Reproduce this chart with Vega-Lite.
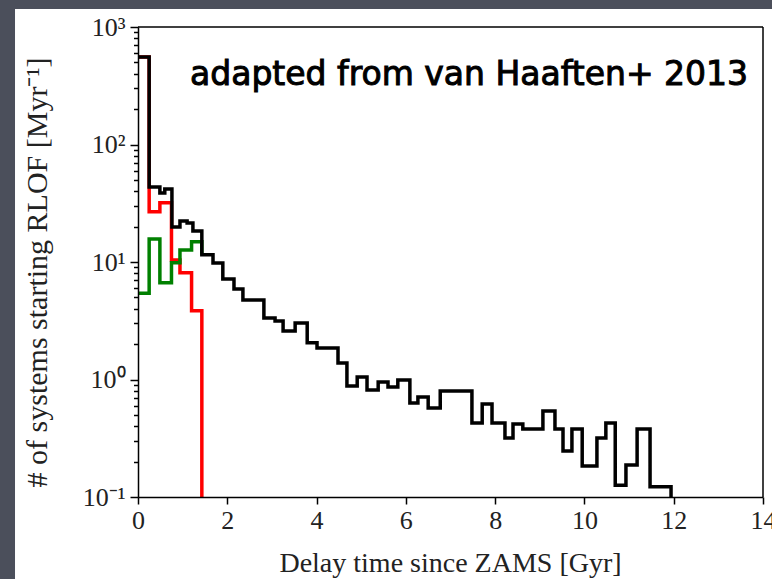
{
  "$schema": "https://vega.github.io/schema/vega-lite/v6.json",
  "autosize": "none",
  "width": 625,
  "height": 470,
  "padding": {"left": 138, "top": 27, "right": 9, "bottom": 82},
  "background": "#4b4f5b",
  "config": {"view": {"stroke": null}},
  "datasets": {
    "steps": [
      {"series": "red", "t": 0, "v": 555},
      {"series": "red", "t": 0.25, "v": 26.8},
      {"series": "red", "t": 0.49, "v": 32},
      {"series": "red", "t": 0.75, "v": 10.4},
      {"series": "red", "t": 0.94, "v": 8.1},
      {"series": "red", "t": 1.2, "v": 3.85},
      {"series": "red", "t": 1.43, "v": 0.01},
      {"series": "green", "t": 0, "v": 5.42},
      {"series": "green", "t": 0.25, "v": 15.7},
      {"series": "green", "t": 0.49, "v": 6.67},
      {"series": "green", "t": 0.75, "v": 9.86},
      {"series": "green", "t": 0.94, "v": 12.65},
      {"series": "green", "t": 1.2, "v": 14.9},
      {"series": "green", "t": 1.43, "v": 11.5},
      {"series": "black", "t": 0, "v": 555},
      {"series": "black", "t": 0.25, "v": 43.5},
      {"series": "black", "t": 0.49, "v": 38.7},
      {"series": "black", "t": 0.6, "v": 41.8},
      {"series": "black", "t": 0.76, "v": 19.9},
      {"series": "black", "t": 0.94, "v": 22.3},
      {"series": "black", "t": 1.1, "v": 21.5},
      {"series": "black", "t": 1.23, "v": 18.4},
      {"series": "black", "t": 1.43, "v": 11.5},
      {"series": "black", "t": 1.68, "v": 9.8},
      {"series": "black", "t": 1.9, "v": 7.17},
      {"series": "black", "t": 2.15, "v": 5.89},
      {"series": "black", "t": 2.35, "v": 4.75},
      {"series": "black", "t": 2.82, "v": 3.34},
      {"series": "black", "t": 3.07, "v": 3.15},
      {"series": "black", "t": 3.25, "v": 2.59},
      {"series": "black", "t": 3.52, "v": 3.03},
      {"series": "black", "t": 3.79, "v": 2.05},
      {"series": "black", "t": 4.01, "v": 1.85},
      {"series": "black", "t": 4.48, "v": 1.38},
      {"series": "black", "t": 4.68, "v": 0.88},
      {"series": "black", "t": 4.91, "v": 1.05},
      {"series": "black", "t": 5.13, "v": 0.814},
      {"series": "black", "t": 5.38, "v": 0.952},
      {"series": "black", "t": 5.6, "v": 0.863},
      {"series": "black", "t": 5.82, "v": 0.99},
      {"series": "black", "t": 6.09, "v": 0.631},
      {"series": "black", "t": 6.27, "v": 0.71},
      {"series": "black", "t": 6.5, "v": 0.572},
      {"series": "black", "t": 6.77, "v": 0.798},
      {"series": "black", "t": 7.48, "v": 0.426},
      {"series": "black", "t": 7.71, "v": 0.619},
      {"series": "black", "t": 7.93, "v": 0.426},
      {"series": "black", "t": 8.22, "v": 0.318},
      {"series": "black", "t": 8.4, "v": 0.418},
      {"series": "black", "t": 8.62, "v": 0.379},
      {"series": "black", "t": 9.07, "v": 0.539},
      {"series": "black", "t": 9.34, "v": 0.379},
      {"series": "black", "t": 9.52, "v": 0.246},
      {"series": "black", "t": 9.72, "v": 0.379},
      {"series": "black", "t": 9.95, "v": 0.184},
      {"series": "black", "t": 10.28, "v": 0.318},
      {"series": "black", "t": 10.48, "v": 0.426},
      {"series": "black", "t": 10.69, "v": 0.126},
      {"series": "black", "t": 10.93, "v": 0.187},
      {"series": "black", "t": 11.18, "v": 0.379},
      {"series": "black", "t": 11.47, "v": 0.122},
      {"series": "black", "t": 11.94, "v": 0.01}
    ],
    "note": [{"label": "adapted from van Haaften+ 2013"}]
  },
  "layer": [
    {
      "data": {"values": [{}]},
      "mark": {"type": "rect", "color": "white", "clip": false},
      "encoding": {
        "x": {"datum": -2.755, "type": "quantitative", "scale": {"domain": [0, 14], "nice": false, "zero": false},
          "axis": {
            "values": [0, 2, 4, 6, 8, 10, 12, 14],
            "grid": false, "zindex": 1,
            "domainColor": "black", "domainWidth": 1.5,
            "tickColor": "black", "tickWidth": 1.5, "tickSize": 7,
            "labelFont": "Liberation Serif", "labelFontSize": 26, "labelColor": "#222",
            "labelPadding": 3, "labelFlush": false,
            "title": "Delay time since ZAMS [Gyr]",
            "titleFont": "Liberation Serif", "titleFontSize": 28, "titleFontWeight": "normal", "titleColor": "#222",
            "titleX": 312, "titleY": 74, "titleBaseline": "alphabetic"
          }},
        "x2": {"datum": 15.5},
        "y": {"datum": 1423, "type": "quantitative", "scale": {"type": "log", "domain": [0.1, 1000], "nice": false},
          "axis": {
            "values": [0.1, 0.2, 0.3, 0.4, 0.5, 0.6, 0.7, 0.8, 0.9, 1, 2, 3, 4, 5, 6, 7, 8, 9, 10, 20, 30, 40, 50, 60, 70, 80, 90, 100, 200, 300, 400, 500, 600, 700, 800, 900, 1000],
            "grid": false, "zindex": 1,
            "domainColor": "black", "domainWidth": 1.5,
            "tickColor": "black", "tickWidth": 1.5,
            "tickSize": {"condition": {"test": "abs(log(datum.value)/LN10 - round(log(datum.value)/LN10)) < 0.000001", "value": 8}, "value": 4.5},
            "labelExpr": "abs(datum.value - 1000) < 1e-6 ? '10³' : abs(datum.value - 100) < 1e-6 ? '10²' : abs(datum.value - 10) < 1e-6 ? '10¹' : abs(datum.value - 1) < 1e-6 ? '10⁰' : abs(datum.value - 0.1) < 1e-6 ? '10⁻¹' : ''",
            "labelFont": "Liberation Serif", "labelFontSize": 26, "labelColor": "#222",
            "labelPadding": 5, "labelFlush": false,
            "title": "# of systems starting RLOF [Myr⁻¹]",
            "titleFont": "Liberation Serif", "titleFontSize": 30, "titleFontWeight": "normal", "titleColor": "#222",
            "titleX": -92, "titleY": 245, "titleAngle": -90, "titleBaseline": "alphabetic", "titleAlign": "center"
          }},
        "y2": {"datum": 0.001}
      }
    },
    {
      "data": {"values": [{}]},
      "mark": {"type": "rule", "color": "black", "strokeWidth": 1.5, "clip": false},
      "encoding": {
        "x": {"datum": 0, "type": "quantitative"},
        "x2": {"datum": 14},
        "y": {"datum": 1000, "type": "quantitative"}
      }
    },
    {
      "data": {"values": [{}]},
      "mark": {"type": "rule", "color": "black", "strokeWidth": 1.5, "clip": false},
      "encoding": {
        "x": {"datum": 14, "type": "quantitative"},
        "y": {"datum": 0.1, "type": "quantitative"},
        "y2": {"datum": 1000}
      }
    },
    {
      "data": {"name": "steps"},
      "transform": [{"filter": "datum.series == 'red'"}],
      "mark": {"type": "line", "interpolate": "step-after", "color": "#ff0000", "strokeWidth": 3.5, "clip": true, "strokeJoin": "miter"},
      "encoding": {"x": {"field": "t", "type": "quantitative"}, "y": {"field": "v", "type": "quantitative"}}
    },
    {
      "data": {"name": "steps"},
      "transform": [{"filter": "datum.series == 'green'"}],
      "mark": {"type": "line", "interpolate": "step-after", "color": "#008000", "strokeWidth": 3.5, "clip": true, "strokeJoin": "miter"},
      "encoding": {"x": {"field": "t", "type": "quantitative"}, "y": {"field": "v", "type": "quantitative"}}
    },
    {
      "data": {"name": "steps"},
      "transform": [{"filter": "datum.series == 'black'"}],
      "mark": {"type": "line", "interpolate": "step-after", "color": "#000000", "strokeWidth": 3.5, "clip": true, "strokeJoin": "miter"},
      "encoding": {"x": {"field": "t", "type": "quantitative"}, "y": {"field": "v", "type": "quantitative"}}
    },
    {
      "data": {"name": "note"},
      "mark": {"type": "text", "font": "DejaVu Sans", "fontSize": 33, "fontWeight": "normal", "color": "black", "stroke": "black", "strokeWidth": 1, "align": "center", "baseline": "middle"},
      "encoding": {
        "x": {"datum": 7.415, "type": "quantitative"},
        "y": {"datum": 390, "type": "quantitative"},
        "text": {"field": "label"}
      }
    }
  ]
}
